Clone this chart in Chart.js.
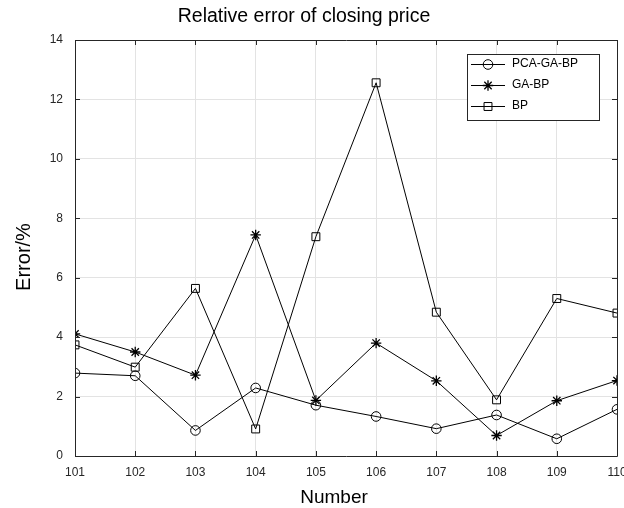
<!DOCTYPE html>
<html>
<head>
<meta charset="utf-8">
<script src="https://cdn.jsdelivr.net/npm/chart.js@4.4.1/dist/chart.umd.min.js"></script>
<style>
  body { margin: 0; background: #fff; }
</style>
</head>
<body>
<canvas id="errChart" width="624" height="508"></canvas>
<script>
const numbers = [101, 102, 103, 104, 105, 106, 107, 108, 109, 110];
const pcaGaBp = [2.79, 2.70, 0.86, 2.29, 1.71, 1.33, 0.92, 1.38, 0.58, 1.57];
const gaBp = [4.11, 3.50, 2.72, 7.44, 1.87, 3.80, 2.53, 0.69, 1.86, 2.54];
const bp = [3.74, 2.99, 5.64, 0.91, 7.38, 12.56, 4.84, 1.89, 5.30, 4.81];
const seriesNames = ['PCA-GA-BP', 'GA-BP', 'BP'];
const yTicks = [0, 2, 4, 6, 8, 10, 12, 14];

const FONT = "'Liberation Sans', Arial, sans-serif";
const INK = '#262626';

function pts(vals) {
  return vals.map((v, i) => ({x: numbers[i], y: v}));
}

const markers = [
  {style: 'circle', radius: 4.8, width: 1},
  {style: 'star', radius: 5.2, width: 1.3},
  {style: 'rect', radius: 5.6, width: 1},
];

const datasets = [pcaGaBp, gaBp, bp].map((vals, i) => ({
  label: seriesNames[i],
  data: pts(vals),
  borderColor: '#000',
  backgroundColor: 'rgba(0,0,0,0)',
  borderWidth: 1,
  pointStyle: markers[i].style,
  pointRadius: markers[i].radius,
  pointBorderColor: '#000',
  pointBackgroundColor: 'rgba(0,0,0,0)',
  pointBorderWidth: markers[i].width,
  tension: 0,
}));

// box, inward ticks, titles and legend like the original figure
const framePlugin = {
  id: 'frame',
  afterDraw(chart) {
    const {ctx, chartArea: a, scales} = chart;
    const xs = scales.x, ys = scales.y;
    ctx.save();
    ctx.strokeStyle = INK;
    ctx.lineWidth = 1;
    ctx.beginPath();
    ctx.rect(Math.round(a.left) + 0.5, Math.round(a.top) + 0.5,
      Math.round(a.right - a.left), Math.round(a.bottom - a.top));
    ctx.stroke();

    const tl = 5;
    ctx.beginPath();
    numbers.forEach(n => {
      const px = Math.round(xs.getPixelForValue(n)) + 0.5;
      ctx.moveTo(px, a.bottom); ctx.lineTo(px, a.bottom - tl);
      ctx.moveTo(px, a.top); ctx.lineTo(px, a.top + tl);
    });
    yTicks.forEach(t => {
      const py = Math.round(ys.getPixelForValue(t)) + 0.5;
      ctx.moveTo(a.left, py); ctx.lineTo(a.left + tl, py);
      ctx.moveTo(a.right, py); ctx.lineTo(a.right - tl, py);
    });
    ctx.stroke();

    ctx.fillStyle = '#000';
    ctx.textAlign = 'center';
    ctx.textBaseline = 'middle';
    ctx.font = '19.5px ' + FONT;
    ctx.fillText('Relative error of closing price', 304, 17);
    ctx.font = '19px ' + FONT;
    ctx.fillText('Number', 334, 498);
    ctx.save();
    ctx.translate(24, 257);
    ctx.rotate(-Math.PI / 2);
    ctx.font = '20px ' + FONT;
    ctx.fillText('Error/%', 0, 0);
    ctx.restore();

    // legend
    const lx = 467, ly = 54, lw = 132, lh = 66;
    ctx.fillStyle = '#fff';
    ctx.fillRect(lx, ly, lw, lh);
    ctx.strokeStyle = INK;
    ctx.strokeRect(lx + 0.5, ly + 0.5, lw, lh);
    ctx.font = '12px ' + FONT;
    ctx.textAlign = 'left';
    seriesNames.forEach((name, i) => {
      const y = 64 + i * 21;
      ctx.strokeStyle = '#000';
      ctx.lineWidth = 1;
      ctx.beginPath();
      ctx.moveTo(471, y + 0.5); ctx.lineTo(505, y + 0.5);
      ctx.stroke();
      ctx.fillStyle = 'rgba(0,0,0,0)';
      ctx.lineWidth = markers[i].width;
      Chart.helpers.drawPoint(ctx, {
        pointStyle: markers[i].style, radius: markers[i].radius, rotation: 0, borderWidth: markers[i].width
      }, 488, y + 0.5);
      ctx.fillStyle = '#000';
      ctx.fillText(name, 512, y);
    });
    ctx.restore();
  }
};

new Chart(document.getElementById('errChart'), {
  type: 'line',
  data: {datasets},
  options: {
    responsive: false,
    animation: false,
    layout: {autoPadding: false, padding: {top: 40, right: 7, left: 0, bottom: 0}},
    plugins: {
      legend: {display: false},
      title: {display: false},
      tooltip: {enabled: false},
    },
    scales: {
      x: {
        type: 'linear',
        min: 101,
        max: 110,
        afterFit(s) { s.height = 52; s.paddingRight = 0; s.paddingLeft = 0; },
        afterBuildTicks(s) { s.ticks = numbers.map(v => ({value: v})); },
        grid: {color: '#e3e3e3', drawTicks: false},
        border: {display: false},
        ticks: {color: INK, font: {family: FONT, size: 12}, padding: 9, maxRotation: 0},
      },
      y: {
        min: 0,
        max: 14,
        afterFit(s) { s.width = 75; s.paddingTop = 0; s.paddingBottom = 0; },
        afterBuildTicks(s) { s.ticks = yTicks.map(v => ({value: v})); },
        grid: {color: '#e3e3e3', drawTicks: false},
        border: {display: false},
        ticks: {color: INK, font: {family: FONT, size: 12}, padding: 12},
      },
    },
  },
  plugins: [framePlugin],
});
</script>
</body>
</html>
